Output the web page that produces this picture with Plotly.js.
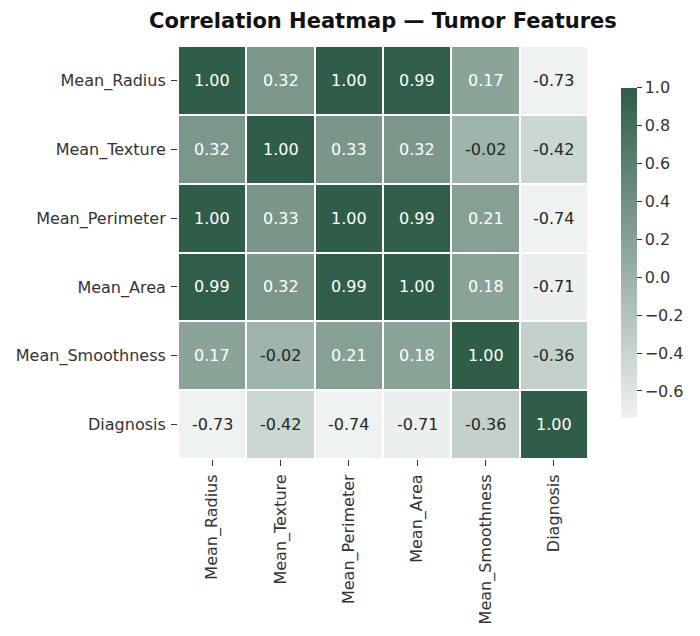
<!DOCTYPE html>
<html><head><meta charset="utf-8">
<script src="https://cdn.plot.ly/plotly-3.0.1.min.js"></script>
<style>body{margin:0;background:#fff}#c{width:700px;height:636px}</style>
</head><body><div id="c"></div>
<script>
const features = ["Mean_Radius","Mean_Texture","Mean_Perimeter","Mean_Area","Mean_Smoothness","Diagnosis"];
const rowMeanRadius     = [1.00, 0.32, 1.00, 0.99, 0.17, -0.73];
const rowMeanTexture    = [0.32, 1.00, 0.33, 0.32, -0.02, -0.42];
const rowMeanPerimeter  = [1.00, 0.33, 1.00, 0.99, 0.21, -0.74];
const rowMeanArea       = [0.99, 0.32, 0.99, 1.00, 0.18, -0.71];
const rowMeanSmoothness = [0.17, -0.02, 0.21, 0.18, 1.00, -0.36];
const rowDiagnosis      = [-0.73, -0.42, -0.74, -0.71, -0.36, 1.00];
const z = [rowMeanRadius,rowMeanTexture,rowMeanPerimeter,rowMeanArea,rowMeanSmoothness,rowDiagnosis];

const annotations = [];
z.forEach((row,i)=>row.forEach((v,j)=>{
  annotations.push({x:features[j],y:features[i],xref:'x',yref:'y',text:v.toFixed(2),showarrow:false,
    font:{family:'DejaVu Sans',size:16,color: v>0.1?'#ffffff':'#262626'}});
}));

const trace = {type:'heatmap',z:z,x:features,y:features,xgap:2,ygap:2,
  zmin:-0.74,zmax:1.0,
  colorscale:[[0,'#eef2f0'],[1,'#2f5d47']],
  hoverinfo:'skip',
  colorbar:{x:1.08,xanchor:'left',xpad:0,ypad:0,y:0.5,yanchor:'middle',len:0.8,thickness:16,outlinewidth:0,
    tickvals:[-0.6,-0.4,-0.2,0,0.2,0.4,0.6,0.8,1.0],
    ticktext:['\u22120.6','\u22120.4','\u22120.2','0.0','0.2','0.4','0.6','0.8','1.0'],
    ticks:'outside',ticklen:5,tickcolor:'#333',tickfont:{family:'DejaVu Sans',size:16,color:'#333'}}
};
const layout = {width:700,height:636,margin:{l:178,r:112,t:46,b:177},
  paper_bgcolor:'#fff',plot_bgcolor:'#fff',
  title:{text:'<b>Correlation Heatmap — Tumor Features</b>',x:0.547,xanchor:'center',y:0.968,yanchor:'middle',
    font:{family:'DejaVu Sans',size:21,color:'#111'}},
  xaxis:{tickangle:-90,ticks:'outside',ticklen:6,tickcolor:'#333',showgrid:false,zeroline:false,ticklabelstandoff:2,
    tickfont:{family:'DejaVu Sans',size:16,color:'#333'}},
  yaxis:{autorange:'reversed',ticks:'outside',ticklen:6,tickcolor:'#333',showgrid:false,zeroline:false,ticklabelstandoff:2,
    tickfont:{family:'DejaVu Sans',size:16,color:'#333'}},
  annotations:annotations
};
Plotly.newPlot('c',[trace],layout,{displayModeBar:false});
</script></body></html>
